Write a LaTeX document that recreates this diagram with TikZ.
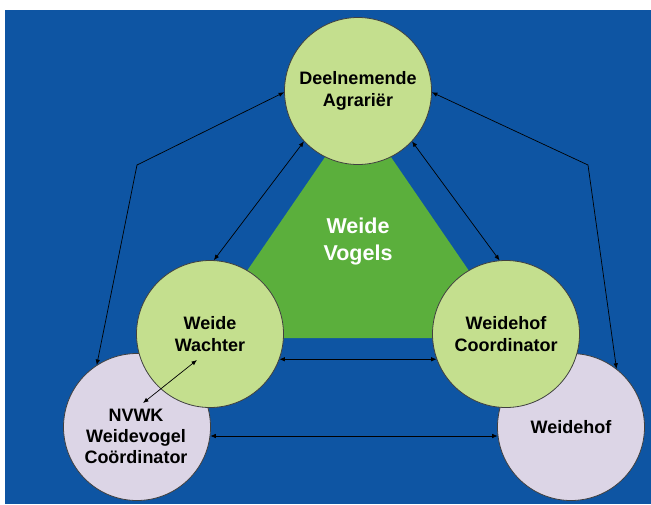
\documentclass[tikz,border=0pt]{standalone}
\usepackage{fontspec}
\setmainfont{Liberation Sans}
\usetikzlibrary{arrows.meta}
\definecolor{bgblue}{HTML}{0E55A3}
\definecolor{lightgreen}{HTML}{C4DF8E}
\definecolor{trigreen}{HTML}{5BAF3C}
\definecolor{lavender}{HTML}{DCD5E6}
\tikzset{
  circnode/.style={circle, minimum size=147pt, inner sep=0pt, draw=black!75, line width=0.8pt,
    align=center, font=\bfseries\fontsize{18}{21.5}\selectfont, text=black},
  greencirc/.style={circnode, fill=lightgreen},
  lavcirc/.style={circnode, fill=lavender},
  link/.style={draw=black, line width=0.7pt, {Latex[length=5.5pt,width=4.5pt]}-{Latex[length=5.5pt,width=4.5pt]}},
}
\begin{document}
\begin{tikzpicture}[x=1pt,y=-1pt]
\useasboundingbox (0,0) rectangle (651,504);
\fill[white] (0,0) rectangle (651,504);
\fill[bgblue] (5,10) rectangle (651,504);
% central triangle
\fill[trigreen] (358,109) -- (201,338) -- (515,338) -- cycle;
\node[font=\bfseries\fontsize{21.5}{27}\selectfont, text=white, align=center] (wv) at (358,241) {Weide\\Vogels};
% lavender circles
\node[lavcirc] (nv) at (137,427) {};
\node[font=\bfseries\fontsize{18}{21}\selectfont, align=center] (nvt) at (136,436) {NVWK\\Weidevogel\\Coördinator};
\node[lavcirc] (wh) at (571,427) {Weidehof};
% green circles
\node[greencirc] (top) at (358,91) {Deelnemende\\Agrariër};
\node[greencirc] (ww) at (210,334) {Weide\\Wachter};
\node[greencirc] (wc) at (506,334) {Weidehof\\Coordinator};
% bend points
\coordinate (bl) at (137,165);
\coordinate (br) at (588,165);
\coordinate (a7s) at (143,403);
\coordinate (a7e) at (197,360);
% connectors
\draw[link] (top.181.5) -- (bl) -- (nv.123);
\draw[link] (top.-1.5) -- (br) -- (wh.52);
\draw[link] (top.223) -- (ww.87);
\draw[link] (top.317) -- (wc.95);
\draw[link] (ww.-20) -- (wc.200);
\draw[link] (nv.-7) -- (wh.187);
\draw[link] (a7s) -- (a7e);
\end{tikzpicture}
\end{document}
